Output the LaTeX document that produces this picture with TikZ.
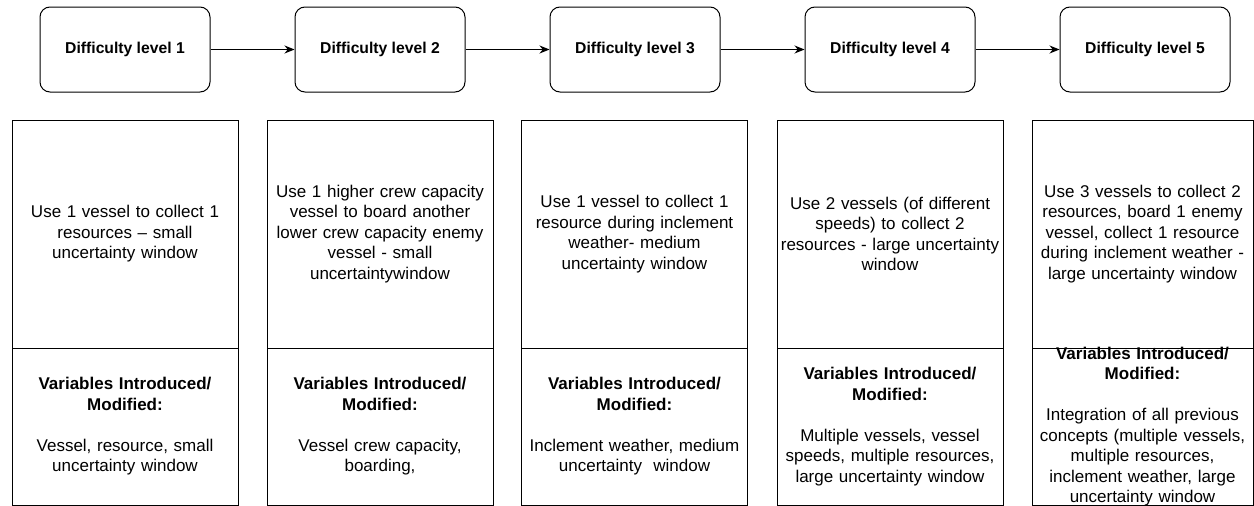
\documentclass[tikz,border=0pt]{standalone}
\usepackage{fontspec}
\setmainfont{Liberation Sans}
\usetikzlibrary{arrows.meta,positioning}

\begin{document}
\begin{tikzpicture}[x=1pt,y=-1pt,lvl/.style={draw,rounded corners=10pt,minimum width=170pt,minimum height=85pt,inner sep=0pt,line width=1pt,font=\fontsize{15.7}{19}\selectfont\bfseries},task/.style={draw,minimum width=226pt,minimum height=228pt,text width=224pt,inner sep=0pt,outer sep=0pt,align=center,line width=1pt,font=\fontsize{17}{20.5}\selectfont},vars/.style={task,minimum height=157pt},go/.style={-{Stealth[length=10pt,width=8pt]},line width=1pt}]
  \useasboundingbox (0,0) rectangle (1254,506);
  \node[lvl] (l1) at (125,49.5) {Difficulty level 1};
  \node[lvl] (l2) at (380,49.5) {Difficulty level 2};
  \node[lvl] (l3) at (635,49.5) {Difficulty level 3};
  \node[lvl] (l4) at (890,49.5) {Difficulty level 4};
  \node[lvl] (l5) at (1145,49.5) {Difficulty level 5};

  \node[task] (u1) at (125,234) {Use 1 vessel to collect 1\\resources -- small\\uncertainty window};
  \node[task] (u2) at (380,234) {Use 1 higher crew capacity\\vessel to board another\\lower crew capacity enemy\\vessel - small\\uncertaintywindow};
  \node[task] (u3) at (634.5,234) {Use 1 vessel to collect 1\\resource during inclement\\weather- medium\\uncertainty window};
  \node[task] (u4) at (890,234) {Use 2 vessels (of different\\speeds) to collect 2\\resources - large uncertainty\\window};
  \node[task,minimum width=221pt,text width=219pt] (u5) at (1142.5,234) {Use 3 vessels to collect 2\\resources, board 1 enemy\\vessel, collect 1 resource\\during inclement weather -\\large uncertainty window};

  \node[vars,below=0pt of u1] (v1) {{\bfseries Variables Introduced/\\Modified:}\\[20.5pt]Vessel, resource, small\\uncertainty window};
  \node[vars,below=0pt of u2] (v2) {{\bfseries Variables Introduced/\\Modified:}\\[20.5pt]Vessel crew capacity,\\boarding,};
  \node[vars,below=0pt of u3] (v3) {{\bfseries Variables Introduced/\\Modified:}\\[20.5pt]Inclement weather, medium\\uncertainty\ \ window};
  \node[vars,below=0pt of u4] (v4) {{\bfseries Variables Introduced/\\Modified:}\\[20.5pt]Multiple vessels, vessel\\speeds, multiple resources,\\large uncertainty window};
  \node[vars,minimum width=221pt,text width=219pt,inner ysep=-6pt,below=0pt of u5] (v5) {{\bfseries Variables Introduced/\\Modified:}\\[20.5pt]Integration of all previous\\concepts (multiple vessels,\\multiple resources,\\inclement weather, large\\uncertainty window};

  \draw[go] (l1) -- (l2);
  \draw[go] (l2) -- (l3);
  \draw[go] (l3) -- (l4);
  \draw[go] (l4) -- (l5);
\end{tikzpicture}
\end{document}
